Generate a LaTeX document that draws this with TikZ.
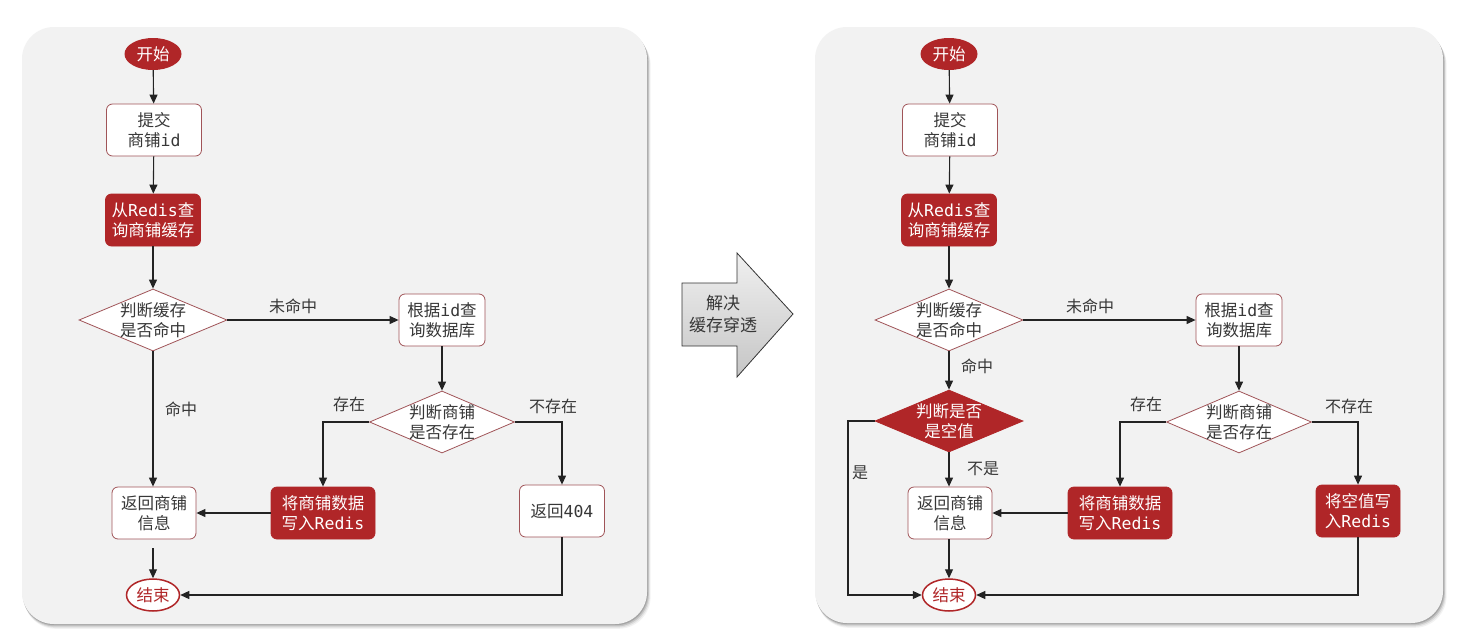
\documentclass[tikz,border=0pt]{standalone}
\usepackage{fontspec}
\setmainfont{Noto Sans CJK SC}
\setmonofont{DejaVu Sans Mono}
\usetikzlibrary{shapes.geometric,arrows.meta}
\definecolor{myred}{RGB}{176,38,40}
\definecolor{bord}{RGB}{160,84,88}
\definecolor{panelbg}{RGB}{242,242,242}
\definecolor{txtc}{RGB}{55,55,55}
\definecolor{linec}{RGB}{35,35,35}
\newcommand\nodefnt{\fontsize{16.5}{20}\selectfont}
\newcommand\labfnt{\fontsize{16}{19}\selectfont}
\begin{document}
\begin{tikzpicture}[x=1pt,y=-1pt,
  panel/.style={fill=panelbg,rounded corners=32pt},
  shad/.style={fill=black,rounded corners=32pt},
  wbox/.style={rectangle,draw=bord,line width=0.8pt,fill=white,rounded corners=6pt,inner sep=0pt,minimum height=52pt,text=txtc,font=\nodefnt,align=center},
  rbox/.style={wbox,fill=myred,draw=myred,text=white},
  dia/.style={diamond,draw=bord,line width=0.8pt,fill=white,inner sep=0pt,minimum width=148pt,minimum height=62pt},
  rdia/.style={dia,fill=myred,draw=myred},
  dtxt/.style={font=\nodefnt,align=center,text=txtc,inner sep=0pt},
  lbl/.style={font=\labfnt,text=txtc,inner sep=0pt},
  arr/.style={-{Triangle[length=9pt,width=8pt]},line width=1.1pt,draw=linec},
  startn/.style={ellipse,fill=myred,text=white,minimum width=57pt,minimum height=32pt,inner sep=0pt,font=\nodefnt},
  endn/.style={ellipse,draw=myred,line width=1.5pt,fill=white,text=myred,minimum width=53pt,minimum height=32pt,inner sep=0pt,font=\nodefnt},
]
\useasboundingbox (0,0) rectangle (1470,643);
\fill[white] (0,0) rectangle (1470,643);
% shadows
\foreach \o/\a in {6/0.05,4.5/0.08,3/0.12,1.5/0.15}{
  \fill[shad,opacity=\a] (22+\o*0.3,27+\o) rectangle (647+\o*0.6,624+\o*0.8);
  \fill[shad,opacity=\a] (815+\o*0.3,27+\o) rectangle (1443+\o*0.6,623+\o*0.8);
}
\fill[panel] (22,27) rectangle (647,624);
\fill[panel] (815,27) rectangle (1443,623);

% ===== left panel =====
\node[startn] (s1) at (153,54) {开始};
\node[wbox,minimum width=95pt] (b1) at (154,130) {提交\\商铺\texttt{id}};
\node[rbox,minimum width=95pt] (r1) at (153,220) {从\texttt{Redis}查\\询商铺缓存};
\node[dia] (d1) at (153,320) {};
\node[dtxt] (d1t) at (d1) {判断缓存\\是否命中};
\node[wbox,minimum width=86pt] (q1) at (442,320) {根据\texttt{id}查\\询数据库};
\node[dia,minimum width=145pt] (d2) at (442,422) {};
\node[dtxt] (d2t) at (d2) {判断商铺\\是否存在};
\node[rbox,minimum width=104pt] (w1) at (323,513) {将商铺数据\\写入\texttt{Redis}};
\node[wbox,minimum width=85pt] (n1) at (562,511) {返回\texttt{404}};
\node[wbox,minimum width=84pt] (ret1) at (154,513) {返回商铺\\信息};
\node[endn] (e1) at (153,595) {结束};

\node[lbl] (l1) at (293,306) {未命中};
\node[lbl] (l2) at (181,409) {命中};
\node[lbl] (l3) at (349,404) {存在};
\node[lbl] (l4) at (553,406) {不存在};

\draw[arr] (s1) -- (b1);
\draw[arr] (b1) -- (r1);
\draw[arr] (r1) -- (d1.north);
\draw[arr] (d1.east) -- (q1.west);
\draw[arr] (q1) -- (d2.north);
\draw[arr] (d2.west) -| (w1.north);
\draw[arr] (d2.east) -| (n1.north);
\draw[arr] (d1.south) -- (d1.south |- ret1.north);
\draw[arr] (w1.west) -- (ret1.east);
\draw[arr,shorten <=9pt] (ret1.south -| e1.north) -- (e1.north);
\draw[arr] (n1.south) |- (e1.east);

% ===== middle arrow =====
\shade[top color=gray!12,bottom color=gray!45,draw=gray!40!black,line width=0.8pt]
  (682,283) -- (737,283) -- (737,253) -- (793,314) -- (737,377) -- (737,346) -- (682,346) -- cycle;
\node[dtxt,font=\fontsize{17}{22}\selectfont] (mid) at (723,314) {解决\\缓存穿透};

% ===== right panel =====
\node[startn] (s2) at (949,54) {开始};
\node[wbox,minimum width=95pt] (b2) at (950,130) {提交\\商铺\texttt{id}};
\node[rbox,minimum width=95pt] (r2) at (949,220) {从\texttt{Redis}查\\询商铺缓存};
\node[dia] (d3) at (949,320) {};
\node[dtxt] (d3t) at (d3) {判断缓存\\是否命中};
\node[wbox,minimum width=86pt] (q2) at (1239,320) {根据\texttt{id}查\\询数据库};
\node[dia,minimum width=145pt] (d4) at (1239,422) {};
\node[dtxt] (d4t) at (d4) {判断商铺\\是否存在};
\node[rbox,minimum width=104pt] (w2) at (1120,513) {将商铺数据\\写入\texttt{Redis}};
\node[rbox,minimum width=84pt] (v2) at (1358,511) {将空值写\\入\texttt{Redis}};
\node[rdia] (z2) at (949,421) {};
\node[dtxt,text=white] (z2t) at (z2) {判断是否\\是空值};
\node[wbox,minimum width=84pt] (ret2) at (950,513) {返回商铺\\信息};
\node[endn] (e2) at (949,595) {结束};
\coordinate (c1) at (848,421);

\node[lbl] (m1) at (1090,306) {未命中};
\node[lbl] (m2) at (977,366) {命中};
\node[lbl] (m3) at (1146,404) {存在};
\node[lbl] (m4) at (1349,406) {不存在};
\node[lbl] (m5) at (983,469) {不是};
\node[lbl] (m6) at (860,473) {是};

\draw[arr] (s2) -- (b2);
\draw[arr] (b2) -- (r2);
\draw[arr] (r2) -- (d3.north);
\draw[arr] (d3.east) -- (q2.west);
\draw[arr] (q2) -- (d4.north);
\draw[arr] (d4.west) -| (w2.north);
\draw[arr] (d4.east) -| (v2.north);
\draw[arr] (d3.south) -- (z2.north);
\draw[arr] (z2.south) -- (z2.south |- ret2.north);
\draw[arr] (z2.west) -- (c1) |- (e2.west);
\draw[arr] (w2.west) -- (ret2.east);
\draw[arr] (ret2.south -| e2.north) -- (e2.north);
\draw[arr] (v2.south) |- (e2.east);
\end{tikzpicture}
\end{document}
